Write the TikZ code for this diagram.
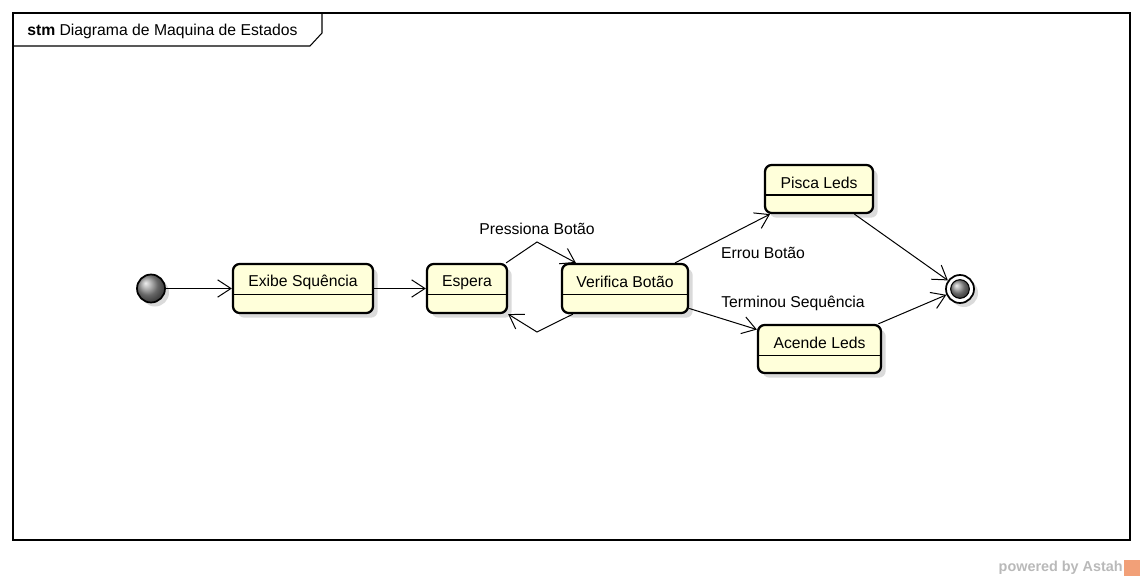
\documentclass[tikz,border=0pt]{standalone}
\usepackage{fontspec}
\setmainfont{Liberation Sans}
\usetikzlibrary{calc,fit,shadows,arrows.meta}
\definecolor{amarelo}{RGB}{255,255,218}
\definecolor{sombra}{RGB}{218,218,218}
\definecolor{astah}{RGB}{242,160,120}
\tikzset{
  estado/.style={draw, line width=1.7pt, rounded corners=5pt, fill=amarelo, inner sep=0pt,
    drop shadow={shadow xshift=3.5pt, shadow yshift=-3.5pt, fill=sombra, opacity=1}},
  transicao/.style={line width=0.75pt, -{Straight Barb[length=10pt,width=13pt,line width=0.75pt]}},
  rotulo/.style={font=\fontsize{11.8}{14}\selectfont, inner sep=0pt},
  pseudo/.style={circle, draw, line width=1.3pt, inner sep=0pt},
}
% estado: nome, canto, canto, texto
\newcommand{\estado}[4]{
\node[estado, fit={#2 #3}] (#1) {};
% divisao
\draw[line width=0.8pt] ($(#1.north west)!0.62!(#1.south west)$) --
                        ($(#1.north east)!0.62!(#1.south east)$);
% nome
\node[rotulo] (#1-nome) at ($(#1.north)!0.38!(#1.south)$) {#4};
}
\begin{document}
\begin{tikzpicture}[x=0.75pt, y=-0.75pt]
\useasboundingbox (0,0) rectangle (1144,581);

% moldura
\draw[line width=0.8pt] (13,13) rectangle (1130,540);
\draw[line width=0.8pt] (13,46) -- (310,46) -- (322,33) -- (322,13);
\node[rotulo, anchor=west] (titulo) at (27,31.5) {\textbf{stm} Diagrama de Maquina de Estados};

% estados
\estado{exibe}{(233,264)}{(373,313)}{Exibe Squência}
\estado{espera}{(427,264)}{(507,313)}{Espera}
\estado{verifica}{(562,264)}{(688,313)}{Verifica Botão}
\estado{pisca}{(765,165)}{(873,213)}{Pisca Leds}
\estado{acende}{(758,325)}{(881,373)}{Acende Leds}

% inicio e fim
\node[pseudo, minimum size=21pt, shading=ball, ball color=gray!85,
      drop shadow={shadow xshift=3pt, shadow yshift=-3pt, fill=sombra, opacity=1}] (inicio) at (151,288.5) {};
\node[pseudo, minimum size=21pt, fill=white,
      drop shadow={shadow xshift=3pt, shadow yshift=-3pt, fill=sombra, opacity=1}] (fim) at (960,289) {};
\node[pseudo, line width=0.8pt, minimum size=14pt, shading=ball, ball color=gray!85] (fim-centro) at (fim) {};

% transicoes
\coordinate (sobe) at (537,242);
\coordinate (desce) at (537,332);

\draw[transicao] (inicio) -- (exibe);
\draw[transicao] (exibe) -- (espera);
\draw[transicao] ($(espera.north east)+(-2,0)$) -- (sobe) -- ($(verifica.north west)+(15,0)$);
\draw[transicao] ($(verifica.south west)+(12,0)$) -- (desce) -- (espera.south east);
\draw[transicao] (verifica) -- (pisca);
\draw[transicao] (verifica) -- (acende);
\draw[transicao] (pisca) -- (fim);
\draw[transicao] (acende) -- (fim);

% rotulos
\node[rotulo] (rot-pressiona) at (537,229) {Pressiona Botão};
\node[rotulo] (rot-errou) at (763,253) {Errou Botão};
\node[rotulo] (rot-terminou) at (793,303) {Terminou Sequência};

% marca
\node[anchor=east, inner sep=0pt, font=\bfseries\fontsize{10.8}{12}\selectfont, text=gray!55] (marca) at (1123,568) {powered by Astah};
\fill[astah] (1124,560) rectangle (1140,576);
\end{tikzpicture}
\end{document}
